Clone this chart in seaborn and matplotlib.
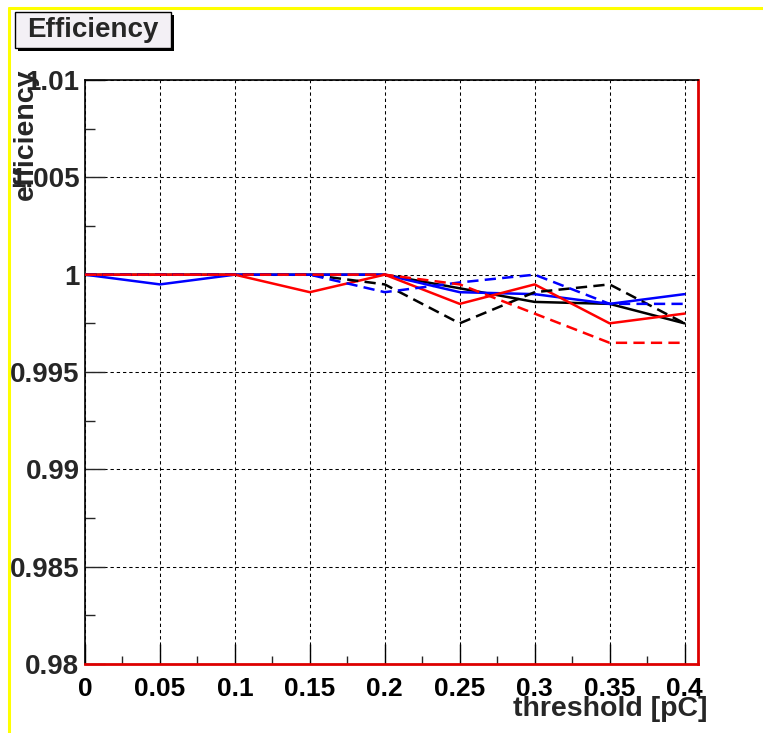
import matplotlib
matplotlib.use("Agg")
import matplotlib.pyplot as plt
import matplotlib.patches as mpatches
import matplotlib.lines as mlines
import numpy as np
import pandas as pd
import seaborn as sns

# ---- data ----
thresholds = [0.0, 0.05, 0.10, 0.15, 0.20, 0.25, 0.30, 0.35, 0.40]
black_solid = [1.0, 1.0, 1.0, 1.0, 1.0, 0.9993, 0.9986, 0.9985, 0.9975]
blue_solid = [1.0, 0.9995, 1.0, 1.0, 1.0, 0.9991, 0.9990, 0.9985, 0.9990]
red_solid = [1.0, 1.0, 1.0, 0.9991, 1.0, 0.9985, 0.9995, 0.9975, 0.9980]
black_dashed = [1.0, 1.0, 1.0, 1.0, 0.9995, 0.9975, 0.9991, 0.9995, 0.9975]
blue_dashed = [1.0, 1.0, 1.0, 1.0, 0.9991, 0.9996, 1.0, 0.9985, 0.9985]
red_dashed = [1.0, 1.0, 1.0, 1.0, 1.0, 0.9995, 0.9980, 0.9965, 0.9965]

xtick_vals = [0.0, 0.05, 0.10, 0.15, 0.20, 0.25, 0.30, 0.35, 0.40]
xtick_labels = ["0", "0.05", "0.1", "0.15", "0.2", "0.25", "0.3", "0.35", "0.4"]
ytick_vals = [0.98, 0.985, 0.99, 0.995, 1.0, 1.005, 1.01]
ytick_labels = ["0.98", "0.985", "0.99", "0.995", "1", "1.005", "1.01"]

series = [
    ("black", "solid", black_solid),
    ("blue", "solid", blue_solid),
    ("red", "solid", red_solid),
    ("black", "dashed", black_dashed),
    ("blue", "dashed", blue_dashed),
    ("red", "dashed", red_dashed),
]
rows = []
for i, (col, kind, vals) in enumerate(series):
    for x, y in zip(thresholds, vals):
        rows.append({"threshold": x, "efficiency": y, "color": col, "kind": kind, "sid": i})
df = pd.DataFrame(rows)

sns.set_style("ticks")
plt.rcParams["font.family"] = ["Liberation Sans", "DejaVu Sans"]
plt.rcParams["font.weight"] = "bold"

W, H = 763, 733
fig = plt.figure(figsize=(W / 100, H / 100), dpi=100)
fig.patch.set_facecolor("white")
L, R, T, B = 85, 698, 80, 664
ax = fig.add_axes([L / W, 1 - B / H, (R - L) / W, (B - T) / H])

palette = {"black": "#000000", "blue": "#0000ff", "red": "#ff0000"}
for i, (col, kind, vals) in enumerate(series):
    sub = df[df["sid"] == i]
    sns.lineplot(data=sub, x="threshold", y="efficiency", ax=ax, color=palette[col],
                 estimator=None, sort=False, legend=False, linewidth=1.8,
                 linestyle="-" if kind == "solid" else (0, (4.5, 2.5)), zorder=3 + i)

ax.set_xlim(0, 0.409)
ax.set_ylim(0.98, 1.01)
ax.set_xticks(xtick_vals)
ax.set_xticklabels(xtick_labels)
ax.set_yticks(ytick_vals)
ax.set_yticklabels(ytick_labels)
ax.set_xticks(np.arange(0.025, 0.409, 0.05), minor=True)
ax.set_yticks(np.arange(0.9825, 1.01, 0.005), minor=True)

ax.grid(True, which="major", color="black", linewidth=0.75, linestyle=(0, (3.2, 2.8)))
ax.set_axisbelow(True)

ax.tick_params(axis="x", which="major", direction="in", length=14.4, width=1, pad=9,
               labelsize=19, colors="black")
ax.tick_params(axis="x", which="minor", direction="in", length=5.8, width=1)
ax.tick_params(axis="y", which="major", direction="in", length=14.4, width=1, pad=4,
               labelsize=20)
ax.tick_params(axis="y", which="minor", direction="in", length=7.2, width=1)
for lab in ax.get_xticklabels() + ax.get_yticklabels():
    lab.set_fontweight("bold")

for s in ["left", "top"]:
    ax.spines[s].set_color("black")
    ax.spines[s].set_linewidth(1.2)
for s in ["right", "bottom"]:
    ax.spines[s].set_color("#dd0000")
    ax.spines[s].set_linewidth(2)

ax.set_xlabel("")
ax.set_ylabel("")
ax.text(1.0163, -0.0895, "threshold [pC]", transform=ax.transAxes, ha="right", va="baseline",
        fontsize=20.5, fontweight="bold")
ax.text(-0.0962, 1.0205, "efficiency", transform=ax.transAxes, ha="center", va="top",
        rotation=90, fontsize=20.5, fontweight="bold")

# title box
bx0, by0, bx1, by1 = 15, 12, 171, 48
fig.patches.append(mpatches.Rectangle(((bx0 + 3) / W, 1 - (by1 + 3) / H), (bx1 - bx0) / W,
                                      (by1 - by0) / H, transform=fig.transFigure,
                                      facecolor="black", edgecolor="none", zorder=1))
fig.patches.append(mpatches.Rectangle((bx0 / W, 1 - by1 / H), (bx1 - bx0) / W,
                                      (by1 - by0) / H, transform=fig.transFigure,
                                      facecolor="#f3f0f5", edgecolor="black", linewidth=1, zorder=2))
fig.text((bx0 + bx1) / 2 / W, 1 - (by0 + by1) / 2 / H, "Efficiency", ha="center", va="center",
         fontsize=20, fontweight="bold", zorder=3)

# yellow canvas border
fig.lines.append(mlines.Line2D([9 / W, 1], [1 - 8 / H, 1 - 8 / H], transform=fig.transFigure,
                               color="#ffff00", linewidth=2.2))
fig.lines.append(mlines.Line2D([9 / W, 9 / W], [0, 1 - 8 / H], transform=fig.transFigure,
                               color="#ffff00", linewidth=2.2))

fig.savefig("out.png", dpi=100, facecolor="white")
